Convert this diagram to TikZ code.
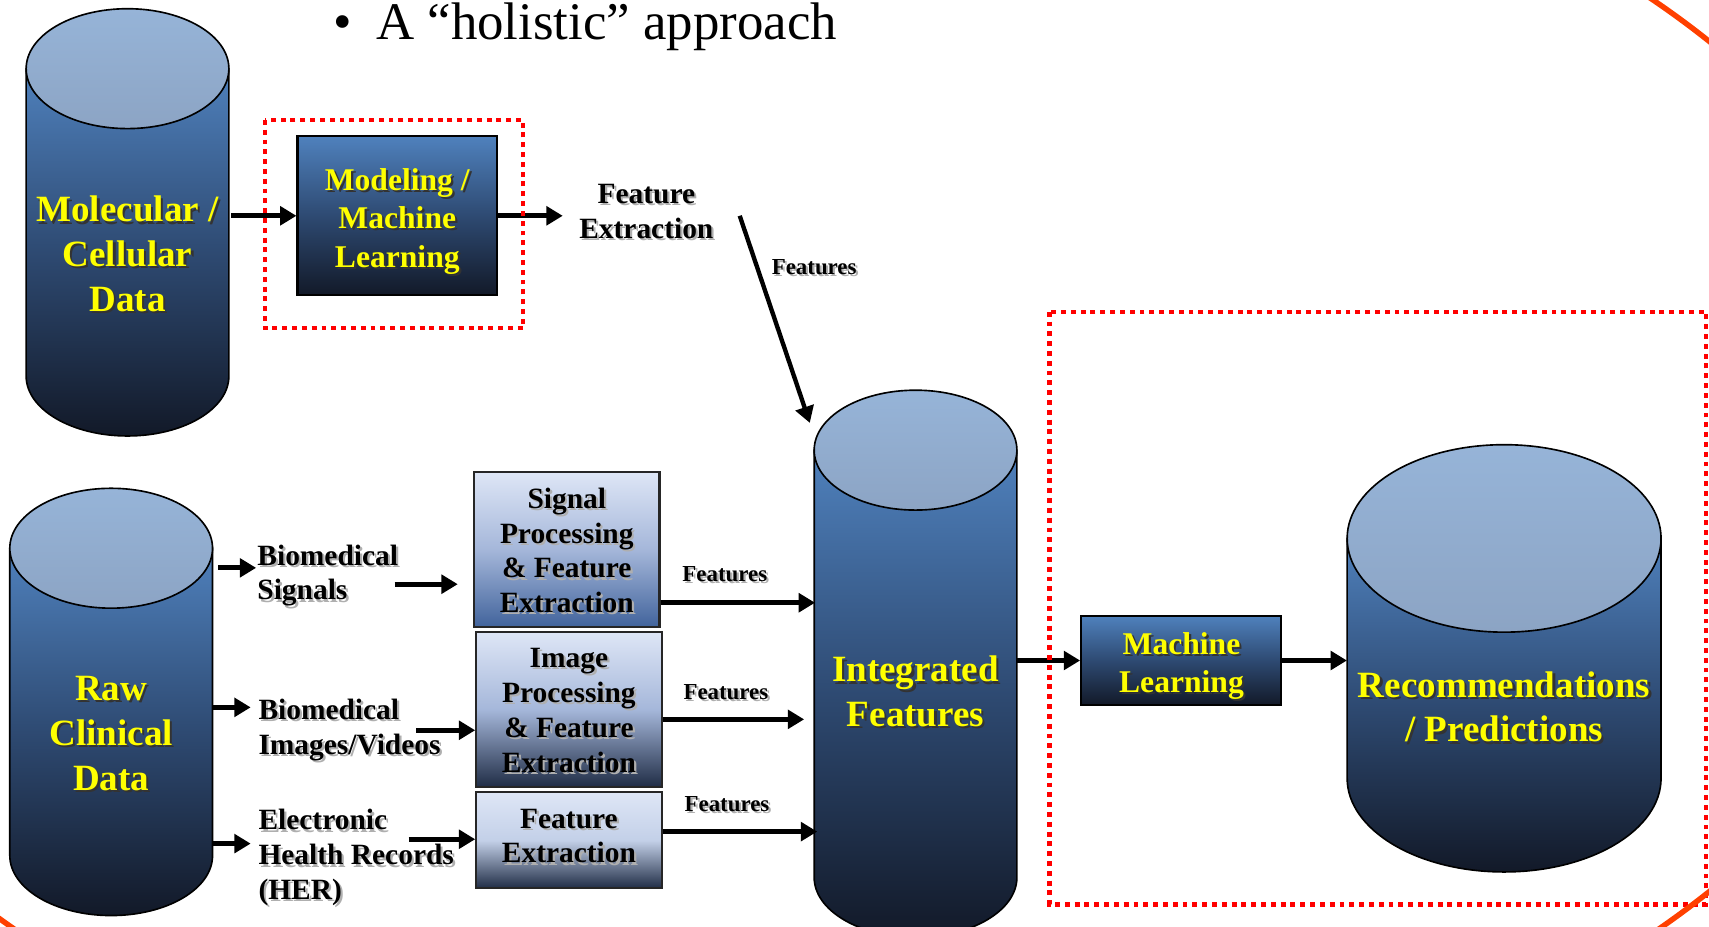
\documentclass[tikz,border=0pt]{standalone}
\usepackage{fontspec}
\setmainfont{Liberation Serif}
\usetikzlibrary{arrows.meta}
\definecolor{cylA}{RGB}{79,129,189}
\definecolor{cylM}{RGB}{46,74,114}
\definecolor{cylB}{RGB}{18,25,40}
\definecolor{capA}{RGB}{150,180,216}
\definecolor{capB}{RGB}{140,164,196}
\definecolor{boxL}{RGB}{222,230,246}
\definecolor{boxM}{RGB}{165,183,218}
\definecolor{boxMM}{RGB}{195,208,232}
\definecolor{boxD}{RGB}{66,100,156}
\definecolor{boxN}{RGB}{32,45,70}
\definecolor{hred}{RGB}{255,0,0}
\definecolor{horange}{RGB}{255,64,0}
\definecolor{ylw}{RGB}{255,255,0}
\definecolor{shgray}{RGB}{175,175,175}
\tikzset{
  arr/.style={line width=4.8pt, -{Triangle[length=15pt,width=17pt]}},
  redbox/.style={draw=hred, line width=4pt, dash pattern=on 4.5pt off 4.5pt},
  cylbody/.style={draw=black, line width=1.5pt, top color=cylA, bottom color=cylB, middle color=cylM},
  cylcap/.style={draw=black, line width=1.5pt, top color=capA, bottom color=capB},
  darkbox/.style={draw=black, line width=2pt, top color=cylA, bottom color=cylB, middle color=cylM, inner sep=0pt},
  lightbox/.style={draw=black!85, line width=2pt, inner sep=0pt},
  ylwA/.style={text=ylw, font=\bfseries\fontsize{34}{41}\selectfont, align=center, inner sep=0pt},
  ylwB/.style={text=ylw, font=\bfseries\fontsize{29}{35.5}\selectfont, align=center, inner sep=0pt},
  blk/.style={text=black, font=\bfseries\fontsize{27}{32}\selectfont, align=center, inner sep=0pt},
  blkL/.style={blk, align=left, anchor=west},
  feat/.style={text=black, font=\bfseries\fontsize{21}{25}\selectfont, inner sep=0pt},
}
% name, cx, rx, top centre y, ry, bottom centre y
\newcommand\dbcyl[6]{%
  \path[cylbody] (#2-#3,-#4) -- (#2-#3,-#6) arc[start angle=180,end angle=360,x radius=#3pt,y radius=#5pt] -- (#2+#3,-#4) -- cycle;
  \path[cylcap] (#2,-#4) ellipse[x radius=#3pt,y radius=#5pt];
  \node[inner sep=0pt, minimum width=2*#3pt, minimum height=#6-#4+2*#5pt] (#1) at (#2,{-(#4+#6)/2}) {};
}
% name, x, y, style, shadow colour, text
\newcommand\shnode[6]{%
  \node[#4, text=#5] (#1sh) at (#2+2,-#3-2) {#6};
  \node[#4] (#1) at (#2,-#3) {#6};
}
\begin{document}
\begin{tikzpicture}[x=1pt,y=1pt]
\useasboundingbox (0,0) rectangle (1568,-850);

% title
\node[anchor=base west, font=\fontsize{48.5}{58}\selectfont, inner sep=0pt] (title) at (306,-36) {•\hspace{22pt}A “holistic” approach};

% cylinders
\dbcyl{mol}{117}{93}{63}{55}{345}
\dbcyl{raw}{102}{93}{503}{55}{785}
\dbcyl{integ}{840}{93}{413}{55}{805}
\dbcyl{rec}{1380}{144}{494}{86}{714}

\shnode{molt}{117}{233}{ylwA}{black!80}{Molecular /\\Cellular\\Data}
\shnode{rawt}{102}{673}{ylwA}{black!80}{Raw\\Clinical\\Data}
\shnode{integt}{840}{634.5}{ylwA}{black!80}{Integrated\\Features}
\shnode{rect}{1380}{648.5}{ylwA}{black!80}{Recommendations\\/ Predictions}

% dark boxes
\node[darkbox, minimum width=183pt, minimum height=146pt] (mod) at (364.5,-198) {};
\shnode{modt}{364.5}{203}{ylwB}{black!80}{Modeling /\\Machine\\Learning}
\node[darkbox, minimum width=183pt, minimum height=82pt] (ml) at (1083.5,-606) {};
\shnode{mlt}{1084}{611}{ylwB}{black!80}{Machine\\Learning}

% light boxes
\node[lightbox, minimum width=170pt, minimum height=142pt, top color=boxL, bottom color=boxD, middle color=boxM] (sigbox) at (520,-504) {};
\shnode{sigt}{520}{505}{blk}{shgray}{Signal\\Processing\\\& Feature\\Extraction}
\node[lightbox, minimum width=170pt, minimum height=142pt, top color=boxL, bottom color=boxN, middle color=boxM] (imgbox) at (522,-651) {};
\shnode{imgt}{522}{652}{blk}{shgray}{Image\\Processing\\\& Feature\\Extraction}
\node[lightbox, minimum width=170pt, minimum height=88pt, top color=boxL, bottom color=boxN, middle color=boxMM] (featbox) at (522,-771) {};
\shnode{featt}{522}{767}{blk}{shgray}{Feature\\Extraction}

% labels
\shnode{fe}{593}{194}{blk}{shgray}{Feature\\Extraction}
\shnode{fdiag}{747}{245}{feat}{shgray}{Features}
\shnode{siglab}{236}{528}{blkL}{shgray}{Biomedical\\Signals}
\shnode{imglab}{237}{670}{blkL}{shgray}{Biomedical\\Images/Videos}
\shnode{ehrlab}{237}{787}{blkL}{shgray}{Electronic\\Health Records\\(HER)}
\shnode{f1}{665}{527}{feat}{shgray}{Features}
\shnode{f2}{666}{635}{feat}{shgray}{Features}
\shnode{f3}{667}{738}{feat}{shgray}{Features}

% connectors
\draw[arr] ([xshift=2pt]mol.east |- mod.west) -- (mod.west);
\draw[arr] (mod.east) -- ([xshift=-15pt]mod.east -| fe.west);
\coordinate (dEnd) at (743,-388);
\draw[arr, line width=4pt] ([shift={(24pt,-4pt)}]fe.east) -- (dEnd);

\draw[arr] ([xshift=5pt,yshift=7pt]raw.east |- siglab.west) -- ([yshift=7pt,xshift=-1pt]siglab.west);
\draw[arr] ([yshift=21pt]raw.east |- imglab.west) -- ([yshift=21pt,xshift=-7pt]imglab.west);
\draw[arr] ([yshift=13pt]raw.east |- ehrlab.west) -- ([yshift=13pt,xshift=-7pt]ehrlab.west);

\coordinate (sigA) at (362,-536);
\draw[arr] (sigA) -- ([xshift=-14pt]sigA -| sigbox.west);
\coordinate (imgA) at (382,-670);
\draw[arr] (imgA) -- (imgA -| imgbox.west);
\coordinate (ehrA) at (375,-770);
\draw[arr] (ehrA) -- (ehrA -| featbox.west);

\draw[arr] ([yshift=-49pt]sigbox.east) -- ([yshift=-49pt,xshift=1pt]sigbox.east -| integ.west);
\draw[arr] ([yshift=-9pt]imgbox.east) -- ([yshift=-9pt,xshift=-9pt]imgbox.east -| integ.west);
\draw[arr] ([yshift=8pt]featbox.east) -- ([yshift=8pt,xshift=3pt]featbox.east -| integ.west);

\draw[arr] (integ.east |- ml.west) -- (ml.west);
\draw[arr] (ml.east) -- (ml.east -| rec.west);

% red dotted frames
\draw[redbox] (243,-110) rectangle (480,-301);
\draw[redbox] (963,-286) rectangle (1565,-830);

% orange outline
\begin{scope}
\clip (800,0) rectangle (1568,-850);
\draw[horange, line width=5pt] (775,-428) ellipse[x radius=1008pt, y radius=632pt];
\end{scope}
\begin{scope}
\clip (0,-600) rectangle (800,-850);
\draw[horange, line width=5pt] (760,-428) ellipse[x radius=1008pt, y radius=632pt];
\end{scope}
\end{tikzpicture}
\end{document}
